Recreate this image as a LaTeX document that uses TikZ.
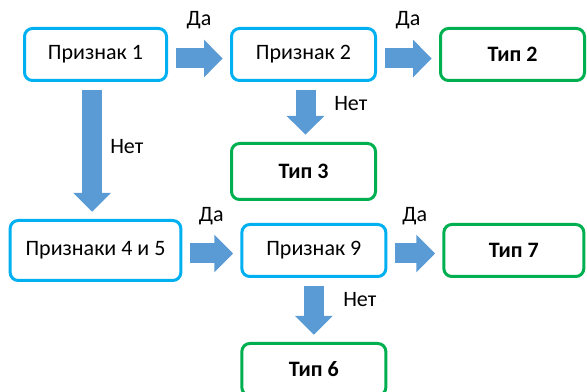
\documentclass[tikz,border=0pt]{standalone}
\usepackage{fontspec}
\setmainfont{Carlito}
\usetikzlibrary{positioning, arrows.meta}
\definecolor{boxblue}{RGB}{0,176,240}
\definecolor{boxgreen}{RGB}{0,176,80}
\definecolor{arrowblue}{RGB}{91,155,213}

\begin{document}
\begin{tikzpicture}[x=0.75pt, y=-0.75pt,
    every node/.style={font=\fontsize{16.5}{19}\selectfont},
    sign/.style={draw=boxblue, line width=2.25pt, rounded corners=6pt,
        minimum width=108pt, minimum height=39pt},
    kind/.style={sign, draw=boxgreen, font=\fontsize{16.5}{19}\selectfont\bfseries},
    flow/.style={draw=arrowblue, line width=15pt, shorten <=6pt, shorten >=5.5pt,
        -{Triangle[width=28pt, length=14pt, line width=1pt]}},
    lbl/.style={inner sep=0pt}]
    \useasboundingbox (0,0) rectangle (587,392);
    \clip (0,0) rectangle (587,392);
    % questions and results
    \node[sign, minimum width=106.5pt] (p1) at (95.5,54.5) {Признак 1};
    \node[sign, right=46.5pt of p1] (p2) {Признак 2};
    \node[kind, right=46.5pt of p2] (t2) {Тип 2};
    \node[kind, below=45pt of p2, minimum height=42pt] (t3) {Тип 3};
    \node[sign, below=102.75pt of p1, minimum width=128pt, minimum height=45pt] (p45) {Признаки 4 и 5};
    \node[sign, right=43.5pt of p45] (p9) {Признак 9};
    \node[kind, right=41.25pt of p9, minimum width=105pt] (t7) {Тип 7};
    \node[kind, below=48pt of p9] (t6) {Тип 6};
    % block arrows
    \draw[flow] ([yshift=-3pt]p1.east) -- ([yshift=-3pt]p2.west)
        node[lbl, midway, yshift=29pt] {Да};
    \draw[flow] ([yshift=-3pt]p2.east) -- ([yshift=-3pt]t2.west)
        node[lbl, midway, yshift=29pt] {Да};
    \draw[flow] ([xshift=-2.5pt]p1.south) -- ([xshift=-2.5pt]p1.south |- p45.north)
        node[lbl, midway, xshift=26pt, yshift=3pt] {Нет};
    \draw[flow] ([xshift=1.5pt]p2.south) -- ([xshift=1.5pt]t3.north)
        node[lbl, midway, xshift=34pt, yshift=6pt] {Нет};
    \draw[flow] ([yshift=-2.25pt]p45.east) -- ([yshift=-2.25pt]p9.west)
        node[lbl, midway, yshift=28pt] {Да};
    \draw[flow] ([yshift=-2.25pt]p9.east) -- ([yshift=-2.25pt]t7.west)
        node[lbl, midway, yshift=28pt] {Да};
    \draw[flow] (p9.south) -- (t6.north)
        node[lbl, midway, xshift=34.5pt, yshift=7.5pt] {Нет};
\end{tikzpicture}
\end{document}
